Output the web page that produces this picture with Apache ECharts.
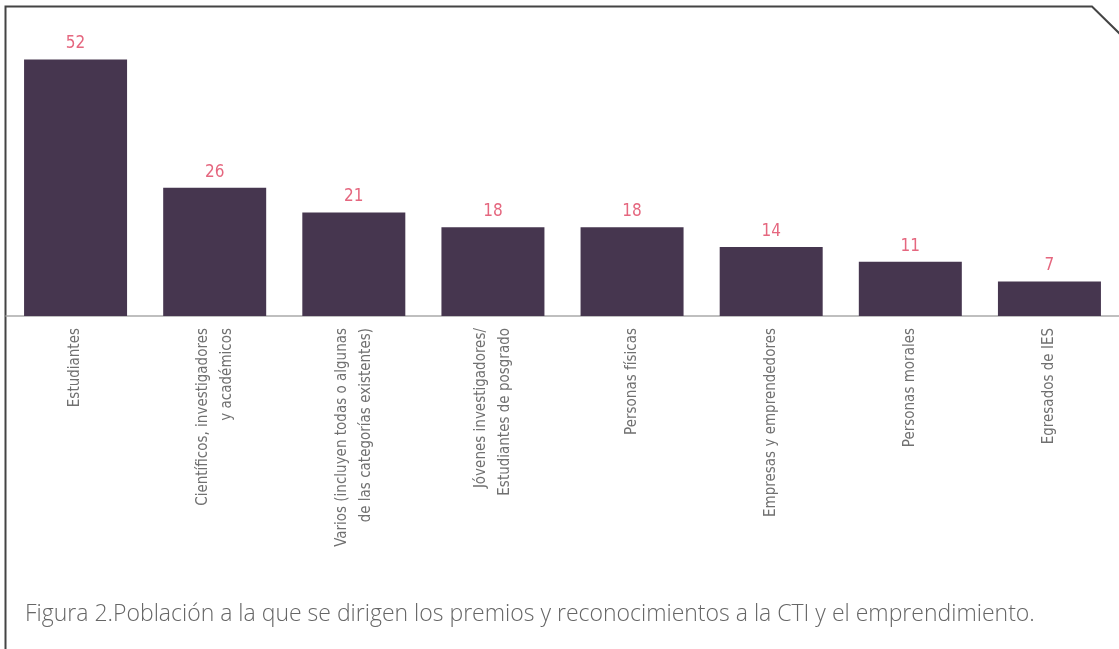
<!DOCTYPE html>
<html>
<head>
<meta charset="utf-8">
<script src="https://cdn.jsdelivr.net/npm/echarts@6/dist/echarts.min.js"></script>
<style>
  html, body { margin: 0; padding: 0; background: #fff; }
  #chart { width: 1119px; height: 649px; }
</style>
</head>
<body>
<div id="chart"></div>
<script>
// población objetivo de los premios
const categories = [
  'Estudiantes',
  'Científicos, investigadores\ny académicos',
  'Varios (incluyen todas o algunas\nde las categorías existentes)',
  'Jóvenes investigadores/\nEstudiantes de posgrado',
  'Personas físicas',
  'Empresas y emprendedores',
  'Personas morales',
  'Egresados de IES'
]
const values = [52, 26, 21, 18, 18, 14, 11, 7]
const caption = 'Figura 2.Población a la que se dirigen los premios y reconocimientos a la CTI y el emprendimiento.'

const narrow = "'DejaVu Sans Condensed', 'DejaVu Sans', sans-serif"

const chart = echarts.init(document.getElementById('chart'))

chart.setOption({
  animation: false,
  title: {
    text: caption,
    left: 20,
    top: 598,
    textStyle: {
      fontFamily: 'Open Sans',
      fontWeight: 300,
      fontSize: 23,
      color: '#666'
    }
  },
  grid: { left: 6, right: -16, top: 20, bottom: 333 },
  xAxis: {
    type: 'category',
    data: categories,
    axisTick: { show: false },
    axisLine: { lineStyle: { color: '#aaa', width: 1.5 } },
    axisLabel: {
      rotate: 90,
      interval: 0,
      margin: 12,
      fontFamily: narrow,
      fontSize: 15,
      lineHeight: 24,
      color: '#707070'
    }
  },
  yAxis: {
    type: 'value',
    min: 0,
    max: 60,
    show: false,
    splitLine: { show: false }
  },
  series: [
    {
      type: 'bar',
      data: values,
      barWidth: 103,
      itemStyle: { color: '#46364f' },
      label: {
        show: true,
        position: 'top',
        distance: 7,
        fontFamily: narrow,
        fontSize: 17,
        color: '#e5677f'
      }
    }
  ],
  graphic: [
    {
      type: 'polyline',
      shape: { points: [[5.5, 649], [5.5, 6.5], [1092, 6.5], [1120, 34]] },
      style: { stroke: '#444', lineWidth: 2, fill: null }
    }
  ]
})
</script>
</body>
</html>
